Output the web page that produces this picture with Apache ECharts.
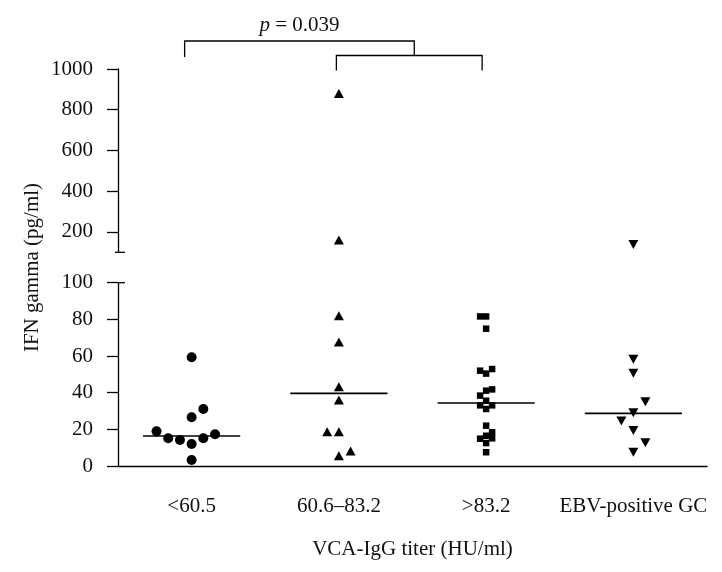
<!DOCTYPE html>
<html>
<head>
<meta charset="utf-8">
<script src="https://cdn.jsdelivr.net/npm/echarts@6/dist/echarts.min.js"></script>
<style>html,body{margin:0;padding:0;background:#fff}#c{width:722px;height:572px}</style>
</head>
<body>
<div id="c"></div>
<script>
// ---- data ----
var categories = ['<60.5', '60.6\u201383.2', '>83.2', 'EBV-positive GC'];
var vals1 = [59.3, 31.1, 26.6, 18.9, 15.1, 14.2, 12.0, 15.1, 17.3, 3.3];
var jit1  = [0, 1, 0, -3, -2, -1, 0, 1, 2, 0];
var vals2 = [880, 160, 82.0, 67.6, 43.3, 36.0, 18.7, 18.7, 5.6, 8.2];
var jit2  = [0, 0, 0, 0, 0, 0, -1, 0, 0, 1];
var vals3 = [81.6, 81.6, 74.9, 52.0, 50.4, 52.9, 41.1, 41.8, 38.4, 35.6, 33.1, 33.1, 31.1, 22.0, 18.4, 14.9, 16.5, 15.1, 12.5, 7.5];
var jit3  = [-1, 0, 0, -1, 0, 1, 0, 1, -1, 0, -1, 1, 0, 0, 1, -1, 0, 1, 0, 0];
var vals4 = [138, 58.2, 50.6, 35.1, 29.1, 24.5, 19.3, 12.7, 7.5];
var jit4  = [0, 0, 0, 1, 0, -1, 0, 1, 0];
var medians = [16.4, 39.6, 34.4, 28.7];
var lowerTicks = [0, 20, 40, 60, 80, 100];
var upperTicks = [200, 400, 600, 800, 1000];
var breakValue = 100;
var pText = '0.039';

var FONT = 'Liberation Serif';
var INK = '#111';
var chart = echarts.init(document.getElementById('c'));

function build(vals, jit, cat, spacing, upper) {
  var out = [];
  for (var i = 0; i < vals.length; i++) {
    var v = vals[i];
    if ((v > breakValue) === upper) {
      out.push({ value: [cat, v], symbolOffset: [jit[i] * spacing, 0] });
    }
  }
  return out;
}

var groups = [
  { vals: vals1, jit: jit1, symbol: 'circle', size: 10, spacing: 11.7, rot: 0 },
  { vals: vals2, jit: jit2, symbol: 'triangle', size: [10, 9], spacing: 11.7, rot: 0 },
  { vals: vals3, jit: jit3, symbol: 'rect', size: 6.5, spacing: 6, rot: 0 },
  { vals: vals4, jit: jit4, symbol: 'triangle', size: [10, 9], spacing: 12, rot: 180 }
];

var series = [];
groups.forEach(function (g, ci) {
  [false, true].forEach(function (up) {
    series.push({
      type: 'scatter',
      xAxisIndex: up ? 0 : 1,
      yAxisIndex: up ? 0 : 1,
      symbol: g.symbol,
      symbolSize: g.size,
      symbolRotate: g.rot,
      itemStyle: { color: '#000', opacity: 1 },
      silent: true,
      data: build(g.vals, g.jit, ci, g.spacing, up)
    });
  });
});

series.push({
  type: 'custom',
  xAxisIndex: 1,
  yAxisIndex: 1,
  silent: true,
  data: medians.map(function (m, i) { return [i, m]; }),
  renderItem: function (params, api) {
    var p = api.coord([api.value(0), api.value(1)]);
    var w = api.size([1, 0])[0] * 0.66;
    return {
      type: 'line',
      shape: { x1: p[0] - w / 2, y1: p[1], x2: p[0] + w / 2, y2: p[1] },
      style: { stroke: '#000', lineWidth: 1.6 }
    };
  }
});

var axisLineStyle = { color: '#000', width: 1.3 };
var labelStyle = { color: INK, fontFamily: FONT, fontSize: 21 };
var plain = function (v) { return String(v); };

chart.setOption({
  animation: false,
  backgroundColor: '#fff',
  grid: [
    { left: 118, right: 15, top: 69, bottom: 319.7 },
    { left: 118, right: 15, top: 282.7, bottom: 106 }
  ],
  xAxis: [
    { gridIndex: 0, type: 'category', data: categories, show: false },
    {
      gridIndex: 1, type: 'category', data: categories,
      axisLine: { lineStyle: axisLineStyle },
      axisTick: { alignWithLabel: true, length: 13, lineStyle: axisLineStyle },
      axisLabel: Object.assign({ margin: 30, interval: 0 }, labelStyle),
      name: 'VCA-IgG titer (HU/ml)',
      nameLocation: 'middle',
      nameGap: 73,
      nameTextStyle: { color: INK, fontFamily: FONT, fontSize: 21 }
    }
  ],
  yAxis: [
    {
      gridIndex: 0, type: 'value', min: 100, max: 1000, interval: 100,
      axisLine: { show: true, lineStyle: axisLineStyle },
      axisTick: { show: true, length: 11, lineStyle: axisLineStyle, customValues: upperTicks },
      axisLabel: Object.assign({ margin: 25, customValues: upperTicks, formatter: plain }, labelStyle),
      splitLine: { show: false }
    },
    {
      gridIndex: 1, type: 'value', min: 0, max: 100, interval: 20,
      axisLine: { show: true, lineStyle: axisLineStyle },
      axisTick: { show: true, length: 11, lineStyle: axisLineStyle, customValues: lowerTicks },
      axisLabel: Object.assign({ margin: 25, customValues: lowerTicks, formatter: plain }, labelStyle),
      splitLine: { show: false }
    }
  ],
  series: series
});

// ---- annotations positioned from the library's scales ----
var cx = categories.map(function (c, i) { return chart.convertToPixel({ xAxisIndex: 1 }, i); });
var axisX = chart.convertToPixel({ xAxisIndex: 1 }, 0) - chart.getModel().getComponent('xAxis', 1).axis.getBandWidth() / 2;
var yBreakUpper = chart.convertToPixel({ yAxisIndex: 0 }, breakValue);
var yBreakLower = chart.convertToPixel({ yAxisIndex: 1 }, breakValue);
var yTop = chart.convertToPixel({ yAxisIndex: 0 }, 1000);
var yZero = chart.convertToPixel({ yAxisIndex: 1 }, 0);

var lineSt = { stroke: '#000', lineWidth: 1.3, fill: null };
var b1L = cx[0] - 7, b2L = cx[1] - 2.5, b2R = cx[2] - 4, b1R = (b2L + b2R) / 2 + 5;
var b1Y = yTop - 28, b2Y = yTop - 13.5;

chart.setOption({
  graphic: [
    { type: 'line', shape: { x1: axisX - 3, y1: yBreakUpper, x2: axisX + 7, y2: yBreakUpper }, style: lineSt, silent: true },
    { type: 'line', shape: { x1: axisX, y1: yBreakLower, x2: axisX + 7, y2: yBreakLower }, style: lineSt, silent: true },
    { type: 'polyline', shape: { points: [[b1L, b1Y + 16], [b1L, b1Y], [b1R, b1Y], [b1R, b2Y]] }, style: lineSt, silent: true },
    { type: 'polyline', shape: { points: [[b2L, b2Y + 15], [b2L, b2Y], [b2R, b2Y], [b2R, b2Y + 15]] }, style: lineSt, silent: true },
    {
      type: 'text', x: (b1L + b1R) / 2, y: b1Y - 16, silent: true,
      style: {
        text: '{i|p} = ' + pText,
        align: 'center', verticalAlign: 'middle',
        fill: INK, font: '21px "Liberation Serif"',
        rich: { i: { fontStyle: 'italic', fontFamily: FONT, fontSize: 21, fill: INK } }
      }
    },
    {
      type: 'text', x: 32, y: (yTop + yZero) / 2, rotation: Math.PI / 2, silent: true,
      style: {
        text: 'IFN gamma (pg/ml)', align: 'center', verticalAlign: 'middle',
        fill: INK, font: '21px "Liberation Serif"'
      }
    }
  ]
});
</script>
</body>
</html>
